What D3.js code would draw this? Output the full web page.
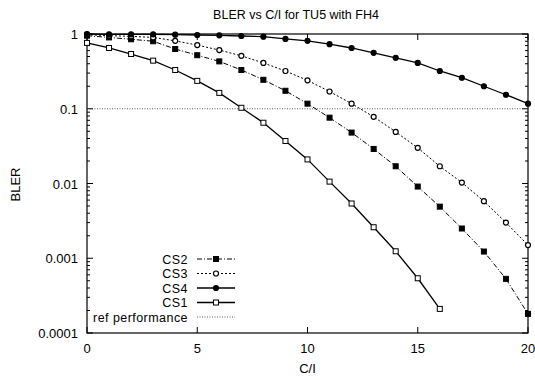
<!DOCTYPE html>
<html>
<head>
<meta charset="utf-8">
<script src="https://cdn.jsdelivr.net/npm/d3@7"></script>
<style>
  body { margin: 0; background: #fff; }
  text { font-family: "Liberation Sans", Arial, sans-serif; fill: #000; }
</style>
</head>
<body>
<div id="chart"></div>
<script>
// C/I values (dB)
const ci = d3.range(0, 21);
const cs1 = [0.76, 0.65, 0.54, 0.44, 0.33, 0.236, 0.163, 0.103, 0.065, 0.037, 0.021,
    0.0106, 0.0054, 0.0026, 0.00124, 0.00054, 0.00021];
const cs2 = [0.95, 0.9, 0.85, 0.8, 0.63, 0.52, 0.43, 0.33, 0.244, 0.174, 0.117,
    0.076, 0.048, 0.029, 0.017, 0.0091, 0.0049, 0.0025, 0.00123, 0.00053, 0.00018];
const cs3 = [0.98, 0.95, 0.93, 0.9, 0.81, 0.71, 0.61, 0.51, 0.41, 0.32, 0.24,
    0.17, 0.117, 0.078, 0.049, 0.030, 0.017, 0.0103, 0.0058, 0.0030, 0.0015];
const cs4 = [1.0, 0.99, 0.99, 0.99, 0.98, 0.97, 0.96, 0.94, 0.92, 0.86, 0.81,
    0.73, 0.65, 0.56, 0.48, 0.41, 0.32, 0.26, 0.20, 0.154, 0.117];
const refLevel = 0.1;
const xTicks = [0, 5, 10, 15, 20];
const yTicks = [1, 0.1, 0.01, 0.001, 0.0001];

const width = 535, height = 380;
const margin = {top: 34, right: 7, bottom: 47, left: 87};

const svg = d3.select("#chart").append("svg")
    .attr("width", width)
    .attr("height", height);

const x = d3.scaleLinear().domain([0, 20]).range([margin.left, width - margin.right]);
const y = d3.scaleLog().domain([0.0001, 1]).range([height - margin.bottom, margin.top]);

const series = [
    {name: "CS2", values: cs2, dash: "5,2,1,2", marker: "square", fill: "#000"},
    {name: "CS3", values: cs3, dash: "2,2", marker: "circle", fill: "#fff"},
    {name: "CS4", values: cs4, dash: null, marker: "circle", fill: "#000"},
    {name: "CS1", values: cs1, dash: null, marker: "square", fill: "#fff"}
];

// frame
svg.append("rect")
    .attr("x", x(0)).attr("y", y(1))
    .attr("width", x(20) - x(0)).attr("height", y(0.0001) - y(1))
    .attr("fill", "none").attr("stroke", "#000").attr("stroke-width", 1.2);

// major x ticks, bottom and top
xTicks.forEach(t => {
    svg.append("line").attr("x1", x(t)).attr("x2", x(t))
        .attr("y1", y(0.0001)).attr("y2", y(0.0001) - 6).attr("stroke", "#000");
    svg.append("line").attr("x1", x(t)).attr("x2", x(t))
        .attr("y1", y(1)).attr("y2", y(1) + 6).attr("stroke", "#000");
    svg.append("text").attr("x", x(t)).attr("y", y(0.0001) + 20)
        .attr("text-anchor", "middle").style("font-size", "13px").text(t);
});

// log ticks, left and right
const minor = [];
for (let e = -4; e < 0; e++) {
    for (let m = 2; m <= 9; m++) minor.push(m * Math.pow(10, e));
}
minor.forEach(v => {
    [[x(0), 3], [x(20), -3]].forEach(([px, d]) => {
        svg.append("line").attr("x1", px).attr("x2", px + d)
            .attr("y1", y(v)).attr("y2", y(v)).attr("stroke", "#000");
    });
});
yTicks.forEach(v => {
    [[x(0), 6], [x(20), -6]].forEach(([px, d]) => {
        svg.append("line").attr("x1", px).attr("x2", px + d)
            .attr("y1", y(v)).attr("y2", y(v)).attr("stroke", "#000");
    });
    svg.append("text").attr("x", x(0) - 9).attr("y", y(v) + 5)
        .attr("text-anchor", "end").style("font-size", "13px").text(v);
});

// reference performance line
svg.append("line")
    .attr("x1", x(0)).attr("x2", x(20))
    .attr("y1", y(refLevel)).attr("y2", y(refLevel))
    .attr("stroke", "#333").attr("stroke-width", 0.8).attr("stroke-dasharray", "1,1.5");

const line = d3.line().x((d, i) => x(ci[i])).y(d => y(d));

function drawMarker(g, s, px, py) {
    if (s.marker === "square") {
        g.append("rect").attr("x", px - 2.5).attr("y", py - 2.5).attr("width", 5).attr("height", 5)
            .attr("fill", s.fill).attr("stroke", "#000").attr("stroke-width", 1);
    } else {
        g.append("circle").attr("cx", px).attr("cy", py).attr("r", 2.5)
            .attr("fill", s.fill).attr("stroke", "#000").attr("stroke-width", 1.2);
    }
}

series.forEach(s => {
    const g = svg.append("g");
    g.append("path").datum(s.values)
        .attr("d", line)
        .attr("fill", "none").attr("stroke", "#000")
        .attr("stroke-width", s.dash ? 1 : 1.3)
        .attr("stroke-dasharray", s.dash);
    s.values.forEach((v, i) => drawMarker(g, s, x(ci[i]), y(v)));
});

// legend
const legend = svg.append("g");
const lx = 197, lw = 38, ly0 = 259, lstep = 14.5;
const legendText = (g, ty, label) => g.append("text")
    .attr("x", lx - 9).attr("y", ty + 4.5)
    .attr("text-anchor", "end").style("font-size", "12.5px")
    .style("letter-spacing", "0.45px").text(label);
series.forEach((s, i) => {
    const ly = ly0 + i * lstep;
    legendText(legend, ly, s.name);
    legend.append("line").attr("x1", lx).attr("x2", lx + lw).attr("y1", ly).attr("y2", ly)
        .attr("stroke", "#000").attr("stroke-width", s.dash ? 1 : 1.3)
        .attr("stroke-dasharray", s.dash);
    drawMarker(legend, s, lx + lw / 2, ly);
});
const rly = ly0 + 4 * lstep;
legendText(legend, rly, "ref performance");
legend.append("line").attr("x1", lx).attr("x2", lx + lw).attr("y1", rly).attr("y2", rly)
    .attr("stroke", "#333").attr("stroke-width", 0.8).attr("stroke-dasharray", "1,1.5");

// titles
svg.append("text").attr("x", 296).attr("y", 19).attr("text-anchor", "middle")
    .style("font-size", "12.5px").text("BLER vs C/I for TU5 with FH4");
svg.append("text").attr("transform", "translate(20," + (y(0.01) + 1) + ") rotate(-90)")
    .attr("text-anchor", "middle").style("font-size", "13px").text("BLER");
svg.append("text").attr("x", x(10)).attr("y", 373).attr("text-anchor", "middle")
    .style("font-size", "13px").text("C/I");
</script>
</body>
</html>
